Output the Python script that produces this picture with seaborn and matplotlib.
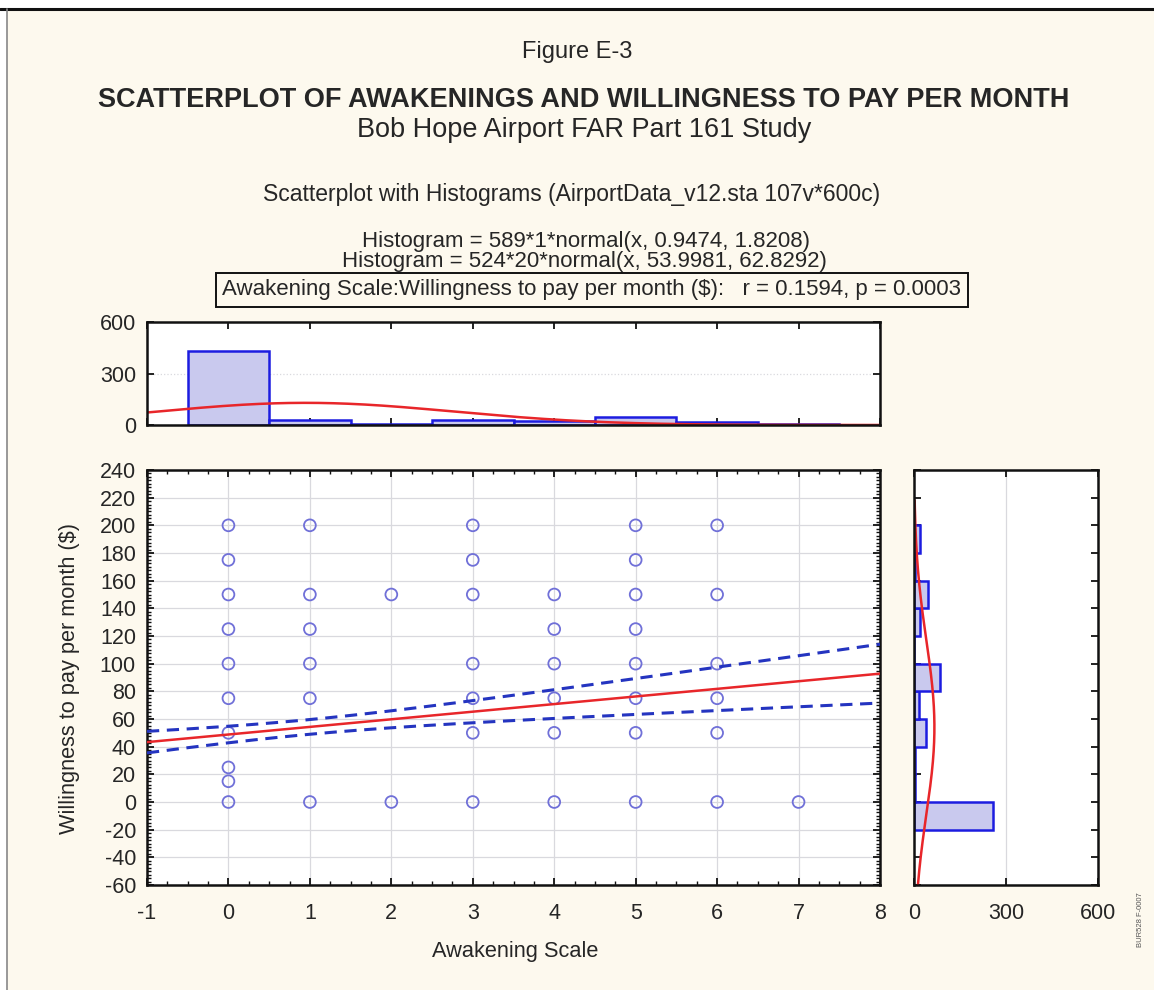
import numpy as np
import pandas as pd
import matplotlib
matplotlib.use("Agg")
import matplotlib.pyplot as plt
import seaborn as sns
from matplotlib.ticker import MultipleLocator, FixedLocator
from matplotlib.patches import Rectangle
from matplotlib.lines import Line2D

# ---- observed (awakening scale, willingness to pay) combinations ----
awakening_scale = [0, 0, 0, 0, 0, 0, 0, 0, 0, 0,
                   1, 1, 1, 1, 1, 1,
                   2, 2,
                   3, 3, 3, 3, 3, 3, 3,
                   4, 4, 4, 4, 4, 4,
                   5, 5, 5, 5, 5, 5, 5, 5,
                   6, 6, 6, 6, 6, 6,
                   7]
willingness_to_pay = [200, 175, 150, 125, 100, 75, 50, 25, 15, 0,
                      200, 150, 125, 100, 75, 0,
                      150, 0,
                      200, 175, 150, 100, 75, 50, 0,
                      150, 125, 100, 75, 50, 0,
                      200, 175, 150, 125, 100, 75, 50, 0,
                      200, 150, 100, 75, 50, 0,
                      0]

# ---- marginal histogram of the awakening scale (bin width 1) ----
awake_levels = [0, 1, 2, 3, 4, 5, 6, 7]
awake_counts = [432, 30, 6, 32, 22, 46, 18, 3]

# ---- marginal histogram of willingness to pay (bin width 20) ----
wtp_bin_mid = [-10, 10, 30, 50, 70, 90, 110, 130, 150, 170, 190]
wtp_counts = [256, 3, 4, 38, 15, 85, 0, 18, 45, 4, 20]

# ---- fitted normal curves and correlation ----
awake_n, awake_binw, awake_mean, awake_sd = 589, 1, 0.9474, 1.8208
wtp_n, wtp_binw, wtp_mean, wtp_sd = 524, 20, 53.9981, 62.8292
r_value, p_value = 0.1594, 0.0003

BG = "#fdf9ee"
BAR_FACE = "#c9c9ee"
BAR_EDGE = "#1c1ce0"
PT_COLOR = "#7070d8"
RED = "#e8262a"
BLUE_DASH = "#2434c0"
GRID = "#d9d9de"

sns.set_theme(style="white")
plt.rcParams["font.family"] = ["Liberation Sans", "DejaVu Sans"]
plt.rcParams["axes.unicode_minus"] = False
plt.rcParams["axes.linewidth"] = 1.8
plt.rcParams["axes.edgecolor"] = "#111111"

fig = plt.figure(figsize=(11.54, 9.9), dpi=100, facecolor="white")
# cream page with a thin rule along the top and left edge
fig.add_artist(Rectangle((7 / 1154, 0), 1 - 7 / 1154, (990 - 10) / 990,
                         transform=fig.transFigure, facecolor=BG,
                         edgecolor="none", zorder=-10))
fig.add_artist(Line2D([0, 1], [1 - 9 / 990, 1 - 9 / 990], transform=fig.transFigure,
                      color="#111111", lw=2.2))
fig.add_artist(Line2D([7 / 1154, 7 / 1154], [0, 1 - 9 / 990], transform=fig.transFigure,
                      color="#888888", lw=1.2))

W, H = 1154, 990


def box(l, t, r, b):
    return [l / W, 1 - b / H, (r - l) / W, (b - t) / H]


ax = fig.add_axes(box(147, 470, 880, 885))
ax_top = fig.add_axes(box(147, 322, 880, 425))
ax_right = fig.add_axes(box(914, 470, 1098, 885))

tick_fs = 15.5

# ---------------- main scatter ----------------
ax.set_facecolor("white")
sns.scatterplot(x=awakening_scale, y=willingness_to_pay, ax=ax, s=72,
                facecolor="none", edgecolor=PT_COLOR, linewidth=1.3, zorder=3)

slope = r_value * wtp_sd / awake_sd
intercept = wtp_mean - slope * awake_mean
xs = np.linspace(-1, 8, 200)
fit = intercept + slope * xs
resid_sd = wtp_sd * np.sqrt(1 - r_value ** 2)
sxx = (wtp_n - 1) * awake_sd ** 2
se = resid_sd * np.sqrt(1 / wtp_n + (xs - awake_mean) ** 2 / sxx)
sns.lineplot(x=xs, y=fit, ax=ax, color=RED, lw=1.8, zorder=4)
for band in (fit + 1.96 * se, fit - 1.96 * se):
    sns.lineplot(x=xs, y=band, ax=ax, color=BLUE_DASH, lw=2.2, zorder=4)
    ax.lines[-1].set_dashes((4, 2.5))

ax.set_xlim(-1, 8)
ax.set_ylim(-60, 240)
ax.xaxis.set_major_locator(MultipleLocator(1))
ax.xaxis.set_minor_locator(MultipleLocator(0.25))
ax.yaxis.set_major_locator(MultipleLocator(20))
ax.yaxis.set_minor_locator(MultipleLocator(2.5))
ax.tick_params(which="both", direction="in", top=True, right=True,
               bottom=True, left=True, color="#111111")
ax.tick_params(which="major", length=5, width=1.3, labelsize=tick_fs, pad=8)
ax.tick_params(axis="x", which="major", pad=13)
ax.tick_params(which="minor", length=3, width=1.0)
ax.grid(True, which="major", color=GRID, lw=0.9)
ax.set_axisbelow(True)
ax.set_xlabel("")
ax.set_ylabel("")

# ---------------- top marginal histogram ----------------
top_df = pd.DataFrame({"level": awake_levels, "count": awake_counts})
ax_top.set_facecolor("white")
sns.histplot(data=top_df, x="level", weights="count",
             bins=[-0.5, 0.5, 1.5, 2.5, 3.5, 4.5, 5.5, 6.5, 7.5],
             ax=ax_top, color=BAR_FACE, edgecolor=BAR_EDGE, alpha=1, linewidth=1.8)
xa = np.linspace(-1, 8, 300)
curve_a = awake_n * awake_binw * np.exp(-0.5 * ((xa - awake_mean) / awake_sd) ** 2) / (
    awake_sd * np.sqrt(2 * np.pi))
sns.lineplot(x=xa, y=curve_a, ax=ax_top, color=RED, lw=1.8)
ax_top.set_xlim(-1, 8)
ax_top.set_ylim(0, 600)
ax_top.yaxis.set_major_locator(FixedLocator([0, 300, 600]))
ax_top.xaxis.set_major_locator(MultipleLocator(1))
ax_top.tick_params(which="both", direction="in", top=True, right=True,
                   bottom=True, left=True, color="#111111", length=5, width=1.3,
                   labelsize=tick_fs, labelbottom=False, pad=8)
ax_top.grid(True, axis="y", color=GRID, lw=0.9, ls=":")
ax_top.set_axisbelow(True)
ax_top.set_xlabel("")
ax_top.set_ylabel("")

# ---------------- right marginal histogram ----------------
right_df = pd.DataFrame({"wtp": wtp_bin_mid, "count": wtp_counts})
ax_right.set_facecolor("white")
sns.histplot(data=right_df, y="wtp", weights="count",
             bins=list(range(-20, 201, 20)),
             ax=ax_right, color=BAR_FACE, edgecolor=BAR_EDGE, alpha=1, linewidth=1.8)
ya = np.linspace(-60, 218, 300)
curve_w = wtp_n * wtp_binw * np.exp(-0.5 * ((ya - wtp_mean) / wtp_sd) ** 2) / (
    wtp_sd * np.sqrt(2 * np.pi))
ax_right.plot(curve_w, ya, color=RED, lw=1.8)
ax_right.set_xlim(0, 600)
ax_right.set_ylim(-60, 240)
ax_right.xaxis.set_major_locator(FixedLocator([0, 300, 600]))
ax_right.yaxis.set_major_locator(MultipleLocator(20))
ax_right.tick_params(which="both", direction="in", top=True, right=True,
                     bottom=True, left=True, color="#111111", length=5, width=1.3,
                     labelsize=tick_fs, labelleft=False, pad=13)
ax_right.grid(True, axis="x", color=GRID, lw=0.9)
ax_right.set_axisbelow(True)
ax_right.set_xlabel("")
ax_right.set_ylabel("")

# ---------------- titles and labels ----------------
fig.text(577 / W, 1 - 52 / H, "Figure E-3", ha="center", va="center", fontsize=17)
fig.text(584 / W, 1 - 100 / H,
         "SCATTERPLOT OF AWAKENINGS AND WILLINGNESS TO PAY PER MONTH",
         ha="center", va="center", fontsize=19.5, fontweight="bold")
fig.text(584 / W, 1 - 130 / H, "Bob Hope Airport FAR Part 161 Study",
         ha="center", va="center", fontsize=19.5)
fig.text(572 / W, 1 - 195 / H,
         "Scatterplot with Histograms (AirportData_v12.sta 107v*600c)",
         ha="center", va="center", fontsize=16.5)
fig.text(586 / W, 1 - 241 / H, "Histogram = 589*1*normal(x, 0.9474, 1.8208)",
         ha="center", va="center", fontsize=16)
fig.text(584 / W, 1 - 262 / H, "Histogram = 524*20*normal(x, 53.9981, 62.8292)",
         ha="center", va="center", fontsize=16)
fig.text(592 / W, 1 - 290 / H,
         "Awakening Scale:Willingness to pay per month ($):   r = 0.1594, p = 0.0003",
         ha="center", va="center", fontsize=16,
         bbox=dict(boxstyle="square,pad=0.3", facecolor=BG, edgecolor="#111111", lw=1.4))
fig.text(70 / W, 1 - 678 / H, "Willingness to pay per month ($)", rotation=90,
         ha="center", va="center", fontsize=15.7)
fig.text(515 / W, 1 - 952 / H, "Awakening Scale", ha="center", va="center", fontsize=15.7)
fig.text(1140 / W, 1 - 920 / H, "BUR528 F-0007", rotation=90, ha="center",
         va="center", fontsize=5.5, color="#555555")

fig.savefig("out.png", dpi=100, facecolor="white")
